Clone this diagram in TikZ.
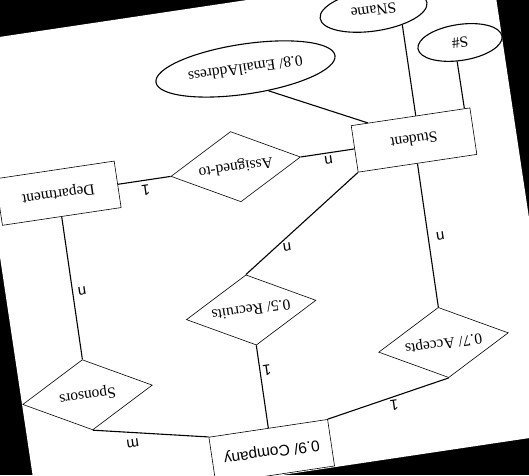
\documentclass[tikz,border=0pt]{standalone}
\usepackage{fontspec}
\setmainfont{Liberation Serif}
\newfontfamily\labelsans{Liberation Sans}
\usetikzlibrary{shapes.geometric,calc}
\begin{document}
\begin{tikzpicture}[x=1pt,y=1pt,
  txt/.style={font=\fontsize{15.5}{18}\selectfont},
  sanstxt/.style={font=\labelsans\fontsize{15.5}{18}\selectfont},
  entity/.style={draw, line width=0.6pt, rectangle, minimum width=120pt, minimum height=47pt, inner sep=0pt, txt},
  relation/.style={draw, line width=0.6pt, diamond, aspect=1.85, minimum width=131pt, minimum height=71pt, inner sep=1pt, txt},
  attribute/.style={draw, line width=1.1pt, ellipse, inner sep=0pt, txt},
  link/.style={line width=1.1pt},
  card/.style={inner sep=1pt, font=\labelsans\fontsize{15}{18}\selectfont}
]
\useasboundingbox (0,0) rectangle (529,475);
\clip (0,0) rectangle (529,475);
\fill[black] (0,0) rectangle (529,475);
\begin{scope}[shift={(264.5,237.5)}, rotate=188.5, transform shape]
  % sheet
  \fill[white] (-264.5,-237.5) rectangle (264.5,237.5);

  % entities
  \node[entity] (student) at (-162.3,-74.3) {Student};
  \node[entity] (department) at (197.4,-74.3) {Department};
  \node[entity, sanstxt] (company) at (24.5,212.8) {0.9/ Company};

  % relationships
  \node[relation] (assigned) at (18,-74.3) {Assigned-to};
  \node[relation] (recruits) at (23.9,69.7) {0.5/ Recruits};
  \node[relation] (accepts) at (-161.5,130.3) {0.7/ Accepts};
  \node[relation] (sponsors) at (198.3,129.4) {Sponsors};

  % attributes
  \node[attribute, minimum width=181pt, minimum height=50pt] (email) at (-6.1,-169.5) {0.8/ EmailAddress};
  \node[attribute, minimum width=108pt, minimum height=41pt] (sname) at (-141.4,-208.4) {SName};
  \node[attribute, minimum width=85pt, minimum height=36pt] (sid) at (-222.2,-164) {S\#};

  % relationship links with cardinalities
  \draw[link] (assigned.east) -- node[card, above=3.5pt] {1} (department.west);
  \draw[link] (student.east) -- node[card, above=1.6pt] {n} (assigned.west);
  \draw[link] (student) -- node[card, pos=0.52, left=6.4pt] {n} (accepts);
  \draw[link] (student.north east) -- node[card, pos=0.69, above left=0pt] {n} (recruits.south);
  \draw[link] (department) -- node[card, pos=0.53, left=3.7pt] {n} (sponsors);
  \draw[link] (sponsors.north) -- node[card, pos=0.33, above=6pt] {m} (company.south east);
  \draw[link] (recruits) -- node[card, pos=0.31, left=1.3pt] {1} (company);
  \draw[link] (accepts.north) -- node[card, pos=0.46, above=1.5pt] {1} (company.south west);

  % attribute links
  \draw[link] (email.128) -- ($(student.south)!0.717!(student.south east)$);
  \draw[link] (sname.145) -- ($(student.south)!0.088!(student.south west)$);
  \draw[link] (sid.73) -- ($(student.south)!0.903!(student.south west)$);
\end{scope}
\end{tikzpicture}
\end{document}
